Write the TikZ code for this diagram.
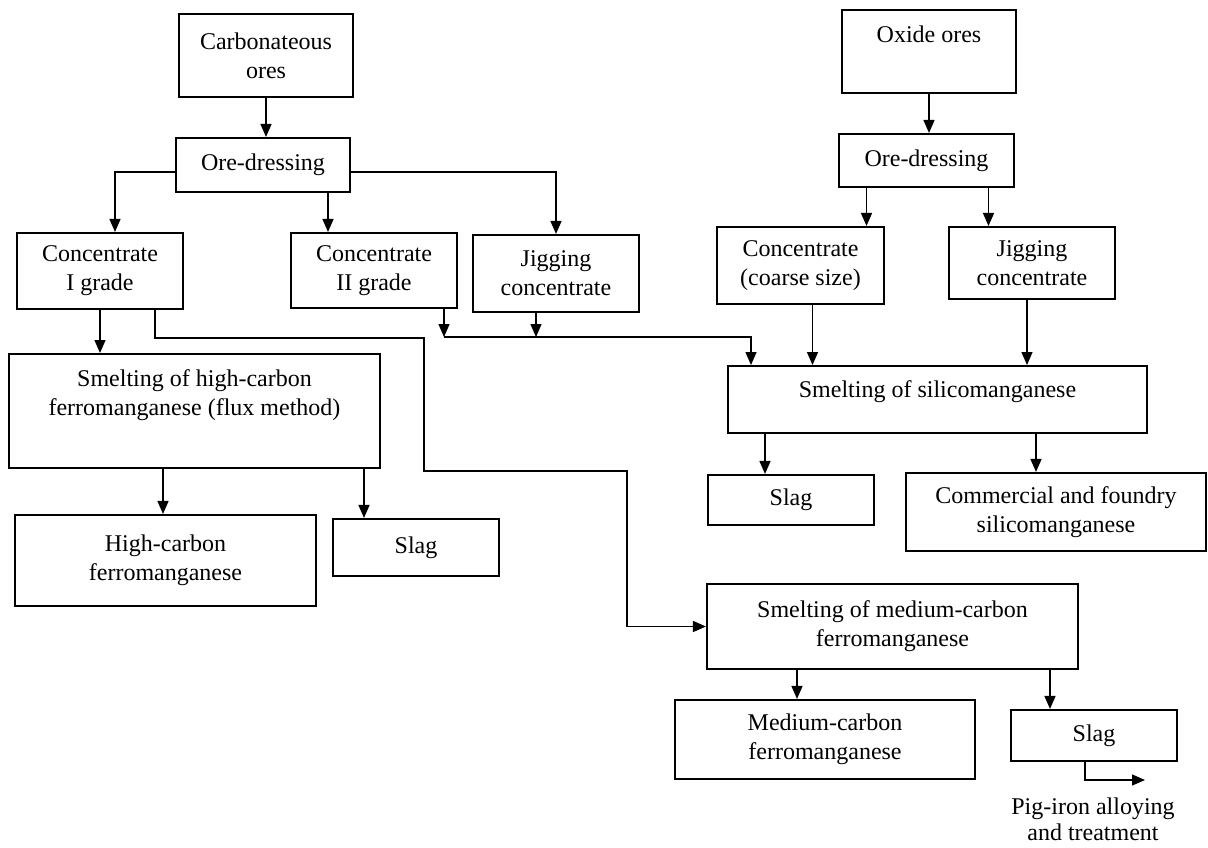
\documentclass[tikz,border=0pt]{standalone}
\usepackage{fontspec}
\setmainfont{Liberation Serif}
\usetikzlibrary{arrows.meta}

\tikzset{
    box/.style={draw, line width=2.1pt, inner sep=0pt, align=center},
    flow/.style={->, line width=1.4pt},
    >={Triangle[width=11pt,length=13pt]}
}

\begin{document}
\begin{tikzpicture}[x=1pt, y=-1pt, font=\fontsize{24}{29}\selectfont]
    \useasboundingbox (0,0) rectangle (1208,847);

    \node[box, minimum width=174, minimum height=83] (carb) at (266,55.5) {Carbonateous\\ores};
    \node[box, minimum width=174, minimum height=54] (oreL) at (263,165) {Ore-dressing};
    \node[box, minimum width=166, minimum height=76] (c1) at (100,271) {Concentrate\\I grade};
    \node[box, minimum width=166, minimum height=75] (c2) at (374,270.5) {Concentrate\\II grade};
    \node[box, minimum width=166, minimum height=77] (jigL) at (556,273.5) {Jigging\\concentrate};
    \node[box, anchor=north, minimum width=371, text height=61pt, text depth=53pt] (smHC) at (194.5,353)
        {Smelting of high-carbon\\ferromanganese (flux method)};
    \node[box, minimum width=301, minimum height=91] (hcF) at (165.5,560.5) {High-carbon\\ferromanganese};
    \node[box, minimum width=166, minimum height=57] (slagL) at (416,547.5) {Slag};

    \node[box, anchor=north, minimum width=174, text height=32pt, text depth=51pt] (oxide) at (929,9) {Oxide ores};
    \node[box, minimum width=175, minimum height=53] (oreR) at (926.5,160.5) {Ore-dressing};
    \node[box, minimum width=167, minimum height=77] (coarse) at (800.5,265.5) {Concentrate\\(coarse size)};
    \node[box, minimum width=166, minimum height=72] (jigR) at (1032,263) {Jigging\\concentrate};
    \node[box, anchor=north, minimum width=419, text height=31pt, text depth=36pt] (smSi) at (937.5,365)
        {Smelting of silicomanganese};
    \node[box, minimum width=166, minimum height=50] (slagSi) at (791,500) {Slag};
    \node[box, minimum width=300, minimum height=78] (comm) at (1056,512) {Commercial and foundry\\silicomanganese};

    \node[box, minimum width=371, minimum height=85] (smMC) at (892.5,626.5) {Smelting of medium-carbon\\ferromanganese};
    \node[box, minimum width=300, minimum height=79] (mcF) at (825,739.5) {Medium-carbon\\ferromanganese};
    \node[box, minimum width=166, minimum height=51] (slagM) at (1094,735.5) {Slag};
    \node[inner sep=0pt, align=center, font=\fontsize{24}{26}\selectfont] (pig) at (1093,819) {Pig-iron alloying\\and treatment};

    \coordinate (join) at (444,337);
    \coordinate (pigend) at (1145,780);

    \draw[flow] (carb.south) -- (carb.south |- oreL.north);
    \draw[flow] ([yshift=-7pt]oreL.west) -| ([xshift=15pt]c1.north);
    \draw[flow] ([xshift=65pt]oreL.south) -- ([xshift=65pt]oreL.south |- c2.north);
    \draw[flow] ([yshift=-7pt]oreL.east) -| (jigL.north);
    \draw[flow] (c1.south) -- (c1.south |- smHC.north);
    \draw[flow] ([xshift=55pt]c1.south) |- (424,338) |- (627,471) |- (smMC.west);
    \draw[flow] ([xshift=70pt]c2.south) -- (join);
    \draw[flow] ([xshift=-20pt]jigL.south) -- ([xshift=-20pt]jigL.south |- join);
    \draw[flow] (join) -| ([xshift=-186.5pt]smSi.north);
    \draw[flow] ([xshift=-31.5pt]smHC.south) -- ([xshift=-31.5pt]smHC.south |- hcF.north);
    \draw[flow] ([xshift=169.5pt]smHC.south) -- ([xshift=169.5pt]smHC.south |- slagL.north);

    \draw[flow] (oxide.south) -- (oxide.south |- oreR.north);
    \draw[flow] ([xshift=-60pt]oreR.south) -- ([xshift=-60pt]oreR.south |- coarse.north);
    \draw[flow] ([xshift=62pt]oreR.south) -- ([xshift=62pt]oreR.south |- jigR.north);
    \draw[flow] ([xshift=12pt]coarse.south) -- ([xshift=12pt]coarse.south |- smSi.north);
    \draw[flow] ([xshift=-5pt]jigR.south) -- ([xshift=-5pt]jigR.south |- smSi.north);
    \draw[flow] ([xshift=-172.5pt]smSi.south) -- ([xshift=-172.5pt]smSi.south |- slagSi.north);
    \draw[flow] ([xshift=98.5pt]smSi.south) -- ([xshift=98.5pt]smSi.south |- comm.north);

    \draw[flow] ([xshift=-95.5pt]smMC.south) -- ([xshift=-95.5pt]smMC.south |- mcF.north);
    \draw[flow] ([xshift=157.5pt]smMC.south) -- ([xshift=157.5pt]smMC.south |- slagM.north);
    \draw[flow] ([xshift=-9pt]slagM.south) |- (pigend);
\end{tikzpicture}
\end{document}
